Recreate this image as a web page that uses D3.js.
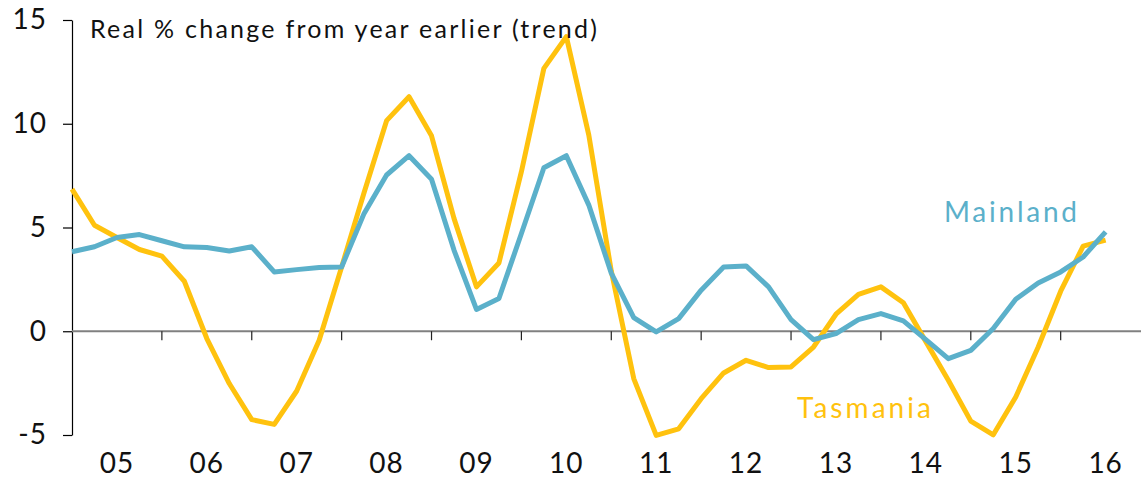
<!DOCTYPE html>
<html>
<head>
<meta charset="utf-8">
<script src="https://cdn.jsdelivr.net/npm/d3@7"></script>
<style>
  html, body { margin: 0; padding: 0; background: #fff; }
  svg { display: block; }
  text { font-family: "Lato", "DejaVu Sans", sans-serif; }
</style>
</head>
<body>
<svg id="chart" width="1141" height="483"></svg>
<script>
// Quarterly observations, March 2005 onwards (index 0 = first quarter of 2005)
const quarters = d3.range(47);
const tasmania = [6.85, 5.11, 4.52, 3.94, 3.62, 2.41, -0.35, -2.52, -4.26, -4.49,
  -2.88, -0.43, 3.1, 6.69, 10.15, 11.3, 9.42, 5.44, 2.14, 3.29,
  7.69, 12.67, 14.2, 9.45, 2.9, -2.28, -5.02, -4.7, -3.25, -2.01,
  -1.4, -1.75, -1.72, -0.76, 0.82, 1.78, 2.14, 1.37, -0.5, -2.36,
  -4.33, -4.99, -3.17, -0.76, 1.93, 4.1, 4.39];
const mainland = [3.83, 4.07, 4.52, 4.66, 4.36, 4.07, 4.04, 3.87, 4.07, 2.86,
  2.97, 3.07, 3.1, 5.68, 7.53, 8.46, 7.33, 3.91, 1.05, 1.58,
  4.71, 7.88, 8.46, 6.08, 2.8, 0.66, -0.03, 0.61, 1.98, 3.1,
  3.15, 2.14, 0.56, -0.4, -0.11, 0.56, 0.85, 0.5, -0.4, -1.32,
  -0.92, 0.13, 1.54, 2.33, 2.86, 3.58, 4.79];
const yearLabels = ["05", "06", "07", "08", "09", "10", "11", "12", "13", "14", "15", "16"];
const yTicks = [-5, 0, 5, 10, 15];

const svg = d3.select("#chart");
const plotLeft = 72, plotTop = 20, plotBottom = 435;
const quarterWidth = 22.47;

const x = d3.scaleLinear().domain([0, 48]).range([plotLeft, plotLeft + 48 * quarterWidth]);
const y = d3.scaleLinear().domain([-5, 15]).range([plotBottom, plotTop]);

// Vertical axis with ticks pointing left; plain hyphen for negatives
const yAxis = d3.axisLeft(y).tickValues(yTicks).tickFormat(d => String(d))
  .tickSize(9).tickPadding(16).tickSizeOuter(0);
const gy = svg.append("g").attr("transform", `translate(${plotLeft},0)`).call(yAxis);
gy.select(".domain").attr("stroke", "#000").attr("stroke-width", 1.2);
gy.selectAll(".tick line").attr("stroke", "#000").attr("stroke-width", 1.2);
gy.selectAll(".tick text").attr("font-size", 28).attr("fill", "#111")
  .attr("letter-spacing", 1)
  .style("font-family", "Lato, 'DejaVu Sans', sans-serif");

// Zero line with year-boundary ticks hanging down
svg.append("line")
  .attr("x1", plotLeft).attr("x2", 1141)
  .attr("y1", y(0)).attr("y2", y(0))
  .attr("stroke", "#808080").attr("stroke-width", 1.8);

const boundaries = d3.range(1, yearLabels.length).map(i => i * 4);
svg.append("g").selectAll("line").data(boundaries).join("line")
  .attr("x1", d => x(d)).attr("x2", d => x(d))
  .attr("y1", y(0)).attr("y2", y(0) + 9)
  .attr("stroke", "#222").attr("stroke-width", 1.2);

// Year labels centred in each year
svg.append("g").selectAll("text").data(yearLabels).join("text")
  .attr("x", (d, i) => x(i * 4 + 2))
  .attr("y", 473)
  .attr("text-anchor", "middle")
  .attr("font-size", 28)
  .attr("letter-spacing", 1)
  .attr("fill", "#111")
  .text(d => d);

// Series lines
const line = d3.line().x((d, i) => x(quarters[i])).y(d => y(d));

svg.append("path").datum(tasmania)
  .attr("d", line)
  .attr("fill", "none").attr("stroke", "#FFC20E").attr("stroke-width", 5)
  .attr("stroke-linejoin", "round");

svg.append("path").datum(mainland)
  .attr("d", line)
  .attr("fill", "none").attr("stroke", "#5BB0CA").attr("stroke-width", 5)
  .attr("stroke-linejoin", "round");

// Series labels
svg.append("text").attr("x", 944).attr("y", 222)
  .attr("font-size", 28).attr("fill", "#5BB0CA")
  .attr("textLength", 133).attr("lengthAdjust", "spacing").text("Mainland");
svg.append("text").attr("x", 797).attr("y", 418)
  .attr("font-size", 28).attr("fill", "#FFC20E")
  .attr("textLength", 134).attr("lengthAdjust", "spacing").text("Tasmania");

// Units note
svg.append("text").attr("x", 90).attr("y", 38)
  .attr("font-size", 25).attr("fill", "#111")
  .attr("textLength", 507).attr("lengthAdjust", "spacing")
  .text("Real % change from year earlier (trend)");
</script>
</body>
</html>
